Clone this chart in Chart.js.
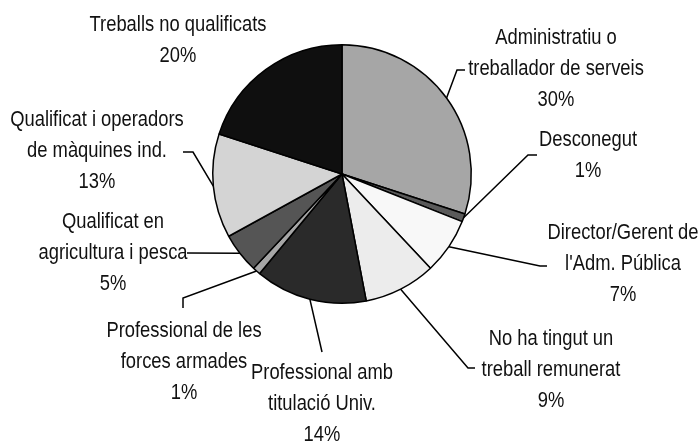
<!DOCTYPE html>
<html>
<head>
<meta charset="utf-8">
<script src="https://cdn.jsdelivr.net/npm/chart.js@4/dist/chart.umd.min.js"></script>
<style>
  html, body { margin: 0; padding: 0; background: #fff; }
  #wrap { width: 698px; height: 446px; position: relative; }
</style>
</head>
<body>
<div id="wrap"><canvas id="myChart"></canvas></div>
<script>
// categories (clockwise from 12 o'clock)
const categories = [
  ["Administratiu o", "treballador de serveis"],
  ["Desconegut"],
  ["Director/Gerent de", "l'Adm. Pública"],
  ["No ha tingut un", "treball remunerat"],
  ["Professional amb", "titulació Univ."],
  ["Professional de les", "forces armades"],
  ["Qualificat en", "agricultura i pesca"],
  ["Qualificat i operadors", "de màquines ind."],
  ["Treballs no qualificats"]
];
const percentages = [30, 1, 7, 9, 14, 1, 5, 13, 20];
const sliceColors = ["#a6a6a6", "#5a5a5a", "#f8f8f8", "#ececec", "#2a2a2a", "#a6a6a6", "#555555", "#d4d4d4", "#0f0f0f"];

// label placement: text centre x, first line y, leader elbow points
const labelLayout = [
  { x: 556, y: 38, leader: [[457, 70], [465, 70]] },
  { x: 588, y: 140, leader: [[528, 155], [537, 155]] },
  { x: 623, y: 233, leader: [[540, 266], [547, 266]] },
  { x: 551, y: 339, leader: [[468, 368], [475, 368]] },
  { x: 322, y: 373, leader: [[322, 352]] },
  { x: 184, y: 331, leader: [[183, 298], [183, 308]] },
  { x: 113, y: 222, leader: [[187, 253]] },
  { x: 97, y: 120, leader: [[193, 152], [183, 152]] },
  { x: 178, y: 25, leader: null }
];

// no narrow font installed, so squeeze a regular sans horizontally
const textSqueeze = 0.835;

const labelPlugin = {
  id: "pieLabels",
  afterDraw(chart) {
    const ctx = chart.ctx;
    const meta = chart.getDatasetMeta(0);
    ctx.save();
    ctx.strokeStyle = "#000";
    ctx.lineWidth = 1.5;
    meta.data.forEach((arc, i) => {
      const p = arc.getProps(["x", "y", "startAngle", "endAngle", "outerRadius"], true);
      const mid = (p.startAngle + p.endAngle) / 2;
      const lay = labelLayout[i];
      if (lay.leader) {
        ctx.beginPath();
        ctx.moveTo(p.x + Math.cos(mid) * p.outerRadius, p.y + Math.sin(mid) * p.outerRadius);
        lay.leader.forEach(pt => ctx.lineTo(pt[0], pt[1]));
        ctx.stroke();
      }
      const lines = categories[i].concat([percentages[i] + "%"]);
      lines.forEach((t, k) => {
        ctx.save();
        ctx.translate(lay.x, lay.y + k * 31);
        ctx.scale(textSqueeze, 1);
        ctx.font = '22px "Liberation Sans", Arial, sans-serif';
        ctx.fillStyle = "#111";
        ctx.textAlign = "center";
        ctx.textBaseline = "middle";
        ctx.fillText(t, 0, 0);
        ctx.restore();
      });
    });
    ctx.restore();
  }
};

new Chart(document.getElementById("myChart"), {
  type: "pie",
  data: {
    labels: categories.map(c => c.join(" ")),
    datasets: [{
      data: percentages,
      backgroundColor: sliceColors,
      borderColor: "#000",
      borderWidth: 1.5
    }]
  },
  options: {
    responsive: true,
    maintainAspectRatio: false,
    animation: false,
    layout: { padding: { left: 212, right: 226, top: 44, bottom: 142 } },
    plugins: {
      legend: { display: false },
      tooltip: { enabled: false }
    }
  },
  plugins: [labelPlugin]
});
</script>
</body>
</html>
